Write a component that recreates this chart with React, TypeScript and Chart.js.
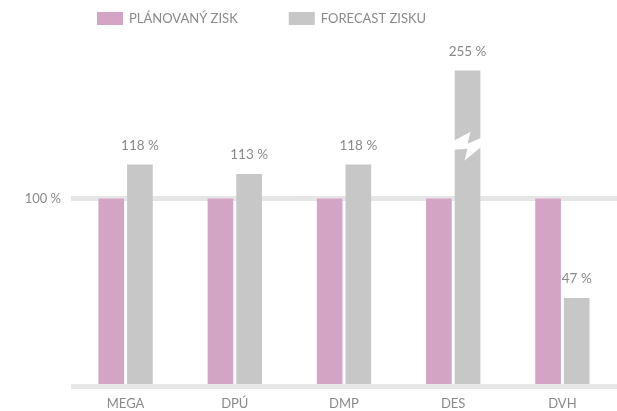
import React, { useEffect, useRef } from "react";
import { Chart, registerables } from "chart.js";

Chart.register(...registerables);

const categories = ["MEGA", "DPÚ", "DMP", "DES", "DVH"];
const planned = [100, 100, 100, 100, 100];
const forecast = [118, 113, 118, 255, 47];
const seriesNames = ["PLÁNOVANÝ ZISK", "FORECAST ZISKU"];
const yTickLabels: Record<number, string> = { 100: "100 %" };
const BREAK_CAP = 168;
const BREAK_AT = 128;

const PINK = "#d3a4c4";
const GRAY = "#c6c7c6";
const TEXT = "#8a8a8a";
const GRID = "#e6e6e6";
const FONT = "Lato, 'Open Sans', sans-serif";

const legendPlugin = {
  id: "customLegend",
  afterDraw(chart: any) {
    const ctx = chart.ctx;
    ctx.save();
    ctx.font = `13px ${FONT}`;
    ctx.textBaseline = "middle";
    ctx.textAlign = "left";
    let x = 97;
    const colors = [PINK, GRAY];
    seriesNames.forEach((name, i) => {
      ctx.fillStyle = colors[i];
      ctx.fillRect(x, 12, 26, 13);
      x += 26 + 6;
      ctx.fillStyle = TEXT;
      ctx.fillText(name, x, 19);
      x += ctx.measureText(name).width + 51;
    });
    ctx.restore();
  },
};

const labelPlugin = {
  id: "valueLabels",
  afterDatasetsDraw(chart: any) {
    const ctx = chart.ctx;
    const meta = chart.getDatasetMeta(1);
    ctx.save();
    ctx.font = `13.5px ${FONT}`;
    ctx.textAlign = "center";
    ctx.textBaseline = "middle";
    meta.data.forEach((bar: any, i: number) => {
      ctx.fillStyle = TEXT;
      ctx.fillText(`${forecast[i]} %`, bar.x, bar.y - 19);
      if (forecast[i] > BREAK_CAP) {
        const w = bar.width;
        const x0 = bar.x - w / 2;
        const x1 = bar.x + w / 2;
        const c = chart.scales.y.getPixelForValue(BREAK_AT);
        ctx.fillStyle = "#ffffff";
        ctx.beginPath();
        ctx.moveTo(x0 - 1, c - 5);
        ctx.lineTo(x0 + 0.62 * w, c - 14);
        ctx.lineTo(x0 + 0.5 * w, c - 2);
        ctx.lineTo(x1 + 1, c - 8);
        ctx.lineTo(x1 + 1, c + 1);
        ctx.lineTo(x0 + 0.38 * w, c + 15);
        ctx.lineTo(x0 + 0.5 * w, c + 3);
        ctx.lineTo(x0 - 1, c + 4);
        ctx.closePath();
        ctx.fill();
      }
    });
    ctx.restore();
  },
};

export default function App() {
  const ref = useRef<HTMLCanvasElement>(null);
  useEffect(() => {
    if (!ref.current) return;
    const shown = forecast.map((v) => Math.min(v, BREAK_CAP));
    const chart = new Chart(ref.current, {
      type: "bar",
      data: {
        labels: categories,
        datasets: [
          {
            label: seriesNames[0],
            data: planned,
            backgroundColor: PINK,
            categoryPercentage: 0.525,
            barPercentage: 0.895,
          },
          {
            label: seriesNames[1],
            data: shown,
            backgroundColor: GRAY,
            categoryPercentage: 0.525,
            barPercentage: 0.895,
          },
        ],
      },
      options: {
        animation: false,
        responsive: true,
        maintainAspectRatio: false,
        layout: { padding: { top: 48, right: 0, bottom: 0, left: 0 } },
        plugins: {
          legend: { display: false },
          tooltip: { enabled: false },
        },
        scales: {
          x: {
            afterFit(scale: any) {
              scale.height = 24.5;
            },
            grid: { display: false, drawTicks: false },
            border: { display: false },
            ticks: {
              color: TEXT,
              font: { family: FONT, size: 13 },
              padding: 9.5,
            },
          },
          y: {
            min: 0,
            max: 180,
            afterFit(scale: any) {
              scale.width = 71;
            },
            grid: {
              drawTicks: false,
              lineWidth: 5,
              color: (c: any) =>
                c.tick && (c.tick.value === 0 || c.tick.value === 100)
                  ? GRID
                  : "rgba(0,0,0,0)",
            },
            border: { display: false },
            ticks: {
              stepSize: 100,
              includeBounds: false,
              padding: 10,
              color: TEXT,
              font: { family: FONT, size: 13 },
              callback: (v: any) => yTickLabels[v as number] ?? "",
            },
          },
        },
      },
      plugins: [legendPlugin, labelPlugin],
    });
    return () => chart.destroy();
  }, []);
  return (
    <div style={{ position: "fixed", left: 0, top: 0, width: 617, height: 411, background: "#fff" }}>
      <canvas ref={ref} />
    </div>
  );
}
